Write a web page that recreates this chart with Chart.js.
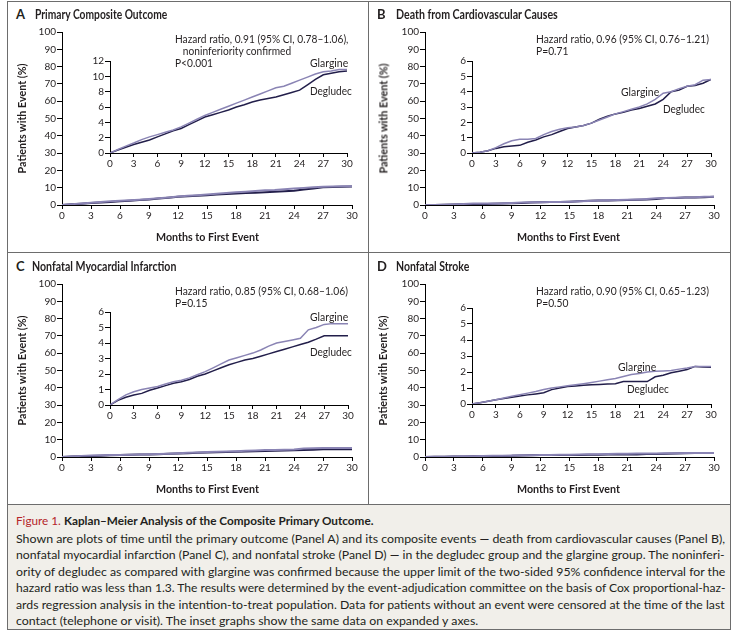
<!DOCTYPE html>
<html>
<head>
<meta charset="utf-8">
<script src="https://cdn.jsdelivr.net/npm/chart.js@4.4.1/dist/chart.umd.min.js"></script>
<style>
body { margin: 0; background: #fff; font-family: Lato, "Open Sans", sans-serif; color: #231f20; }
#page { position: relative; width: 736px; height: 636px; overflow: hidden; }
.t { position: absolute; white-space: nowrap; }
canvas { position: absolute; }
.frame { position: absolute; background: #6d6d6d; }
#capbox { position: absolute; left: 7px; top: 504px; width: 724px; height: 126px; background: #f1efea; border: 1px solid #6d6d6d; box-sizing: border-box; }
</style>
</head>
<body>
<div id="page">
  <div class="frame" style="left:7px;top:1px;width:724px;height:1px"></div>
  <div class="frame" style="left:7px;top:1px;width:1px;height:504px"></div>
  <div class="frame" style="left:730px;top:1px;width:1px;height:504px"></div>
  <div class="frame" style="left:368px;top:1px;width:1px;height:504px"></div>
  <div class="frame" style="left:7px;top:252px;width:724px;height:1px"></div>
  <div id="capbox"></div>

  <canvas id="mainA" width="340" height="215" style="left:30px;top:20px"></canvas>
  <canvas id="mainB" width="339" height="215" style="left:393px;top:20px"></canvas>
  <canvas id="mainC" width="340" height="215" style="left:30px;top:272px"></canvas>
  <canvas id="mainD" width="339" height="215" style="left:393px;top:272px"></canvas>

  <canvas id="insetA" width="280" height="125" style="left:80px;top:50px"></canvas>
  <canvas id="insetB" width="282" height="125" style="left:442px;top:50px"></canvas>
  <canvas id="insetC" width="281" height="126" style="left:80px;top:301px"></canvas>
  <canvas id="insetD" width="282" height="129" style="left:442px;top:297px"></canvas>
</div>

<script>
// months on the x axis (shared by all curves)
const months = [0, 1, 2, 3, 4, 5, 6, 7, 8, 9, 10, 11, 12, 13, 14, 15, 16, 17, 18, 19, 20, 21, 22, 23, 24, 25, 26, 27, 28, 29, 30];
const xTicks = [0, 3, 6, 9, 12, 15, 18, 21, 24, 27, 30];

// Panel A - primary composite outcome (%)
const glargineA = [0, 0.45, 0.9, 1.3, 1.75, 2.1, 2.4, 2.7, 3.0, 3.4, 3.9, 4.4, 4.9, 5.3, 5.7, 6.1, 6.5, 6.9, 7.3, 7.7, 8.1, 8.5, 8.7, 9.1, 9.5, 9.9, 10.3, 10.6, 10.7, 10.9, 10.9];
const degludecA = [0, 0.4, 0.75, 1.1, 1.4, 1.7, 2.1, 2.5, 2.9, 3.2, 3.7, 4.2, 4.7, 5.0, 5.3, 5.6, 6.0, 6.3, 6.65, 6.9, 7.1, 7.3, 7.6, 7.9, 8.2, 8.9, 9.6, 10.2, 10.4, 10.6, 10.7];

// Panel B - death from cardiovascular causes (%)
const glargineB = [0, 0.05, 0.15, 0.35, 0.6, 0.8, 0.9, 0.9, 0.95, 1.2, 1.4, 1.55, 1.65, 1.7, 1.8, 1.95, 2.15, 2.35, 2.55, 2.7, 2.85, 3.0, 3.2, 3.5, 3.9, 4.0, 4.2, 4.35, 4.45, 4.75, 4.8];
const degludecB = [0, 0.05, 0.15, 0.3, 0.4, 0.45, 0.5, 0.7, 0.85, 1.05, 1.2, 1.4, 1.6, 1.7, 1.8, 1.95, 2.2, 2.4, 2.55, 2.65, 2.8, 2.9, 3.05, 3.2, 3.5, 4.0, 4.1, 4.35, 4.4, 4.55, 4.8];

// Panel C - nonfatal myocardial infarction (%)
const glargineC = [0, 0.35, 0.65, 0.85, 1.0, 1.1, 1.2, 1.35, 1.5, 1.6, 1.75, 1.95, 2.15, 2.4, 2.65, 2.9, 3.05, 3.2, 3.35, 3.55, 3.8, 4.0, 4.1, 4.2, 4.3, 4.85, 5.0, 5.2, 5.25, 5.25, 5.25];
const degludecC = [0, 0.3, 0.5, 0.65, 0.75, 0.95, 1.1, 1.25, 1.4, 1.5, 1.65, 1.85, 2.0, 2.2, 2.4, 2.6, 2.75, 2.9, 3.0, 3.15, 3.3, 3.45, 3.6, 3.75, 3.9, 4.05, 4.25, 4.47, 4.47, 4.47, 4.47];

// Panel D - nonfatal stroke (%)
const glargineD = [0, 0.08, 0.17, 0.27, 0.38, 0.48, 0.58, 0.68, 0.78, 0.9, 1.0, 1.07, 1.14, 1.2, 1.27, 1.35, 1.43, 1.52, 1.6, 1.72, 1.85, 1.9, 2.0, 2.05, 2.07, 2.1, 2.18, 2.25, 2.35, 2.35, 2.35];
const degludecD = [0, 0.08, 0.17, 0.27, 0.35, 0.42, 0.5, 0.57, 0.63, 0.7, 0.9, 1.0, 1.1, 1.13, 1.17, 1.2, 1.22, 1.25, 1.27, 1.4, 1.4, 1.4, 1.4, 1.7, 1.8, 1.95, 2.05, 2.15, 2.35, 2.32, 2.3];

const GLARGINE = '#8a84b4';
const DEGLUDEC = '#221e4a';
const INK = '#231f20';

Chart.defaults.font.family = 'Lato, "Open Sans", sans-serif';
Chart.defaults.font.size = 10;
Chart.defaults.color = INK;

function toXY(ys) {
    return months.map((m, i) => ({ x: m, y: ys[i] }));
}

function drawKM(id, gl, de, yMax, yStep, opts) {
    new Chart(document.getElementById(id), {
        type: 'line',
        data: {
            datasets: [
                { label: 'Glargine', data: toXY(gl), borderColor: GLARGINE, borderWidth: opts.lw, pointRadius: 0, fill: false, tension: 0 },
                { label: 'Degludec', data: toXY(de), borderColor: DEGLUDEC, borderWidth: opts.lw, pointRadius: 0, fill: false, tension: 0 }
            ]
        },
        options: {
            responsive: false,
            animation: false,
            layout: { padding: { top: opts.top, right: opts.right, left: 0, bottom: 0 } },
            plugins: { legend: { display: false }, tooltip: { enabled: false } },
            scales: {
                x: {
                    type: 'linear', min: 0, max: 30,
                    afterBuildTicks: s => { s.ticks = xTicks.map(v => ({ value: v })); },
                    ticks: { padding: 1, maxRotation: 0, autoSkip: false, font: { size: opts.fs } },
                    grid: { drawOnChartArea: false, tickLength: 4, color: '#000' },
                    border: { color: '#000', width: 1 },
                    afterFit: s => { s.height = opts.xh; }
                },
                y: {
                    min: 0, max: yMax,
                    ticks: { stepSize: yStep, padding: 1, autoSkip: false, font: { size: opts.fs } },
                    grid: { drawOnChartArea: false, tickLength: 5, color: '#000' },
                    border: { color: '#000', width: 1 },
                    afterFit: s => { s.width = opts.yw; }
                }
            }
        }
    });
}

const mainOpts = { lw: 2, top: 12, right: 18, xh: 30, yw: 32, fs: 10 };
drawKM('mainA', glargineA, degludecA, 100, 10, mainOpts);
drawKM('mainB', glargineB, degludecB, 100, 10, mainOpts);
drawKM('mainC', glargineC, degludecC, 100, 10, mainOpts);
drawKM('mainD', glargineD, degludecD, 100, 10, mainOpts);

const insetOpts = { lw: 1.5, top: 11, right: 13, xh: 22, yw: 30, fs: 10 };
drawKM('insetA', glargineA, degludecA, 12, 2, insetOpts);
drawKM('insetB', glargineB, degludecB, 6, 1, insetOpts);
drawKM('insetC', glargineC, degludecC, 6, 1, insetOpts);
drawKM('insetD', glargineD, degludecD, 6, 1, insetOpts);

// text placement: (x, y) is the left edge or centre, y is the vertical centre;
// w squeezes the line to the width it has in the printed figure
const page = document.getElementById('page');
function put(html, x, y, style, w, align, rot) {
    const el = document.createElement('div');
    el.className = 't';
    el.innerHTML = html;
    el.style.cssText += style;
    page.appendChild(el);
    const nw = el.offsetWidth, nh = el.offsetHeight;
    const k = w ? w / nw : 1;
    el.style.top = (y - nh / 2) + 'px';
    if (align === 'center') {
        el.style.left = (x - nw / 2) + 'px';
        el.style.transformOrigin = 'center center';
    } else {
        el.style.left = x + 'px';
        el.style.transformOrigin = 'left center';
    }
    el.style.transform = (rot ? 'rotate(-90deg) ' : '') + 'scaleX(' + k + ')';
    return k;
}

const titleFont = 'font-weight:bold;font-size:12.5px;';
const bodyFont = 'font-size:11px;';
const labelFont = 'font-weight:bold;font-size:11.5px;';

const panels = [
    { dx: 0, dy: 0, letter: 'A', title: 'Primary Composite Outcome', tw: 132,
      hr: ['Hazard ratio, 0.91 (95% CI, 0.78–1.06),', '&nbsp;&nbsp;&nbsp;noninferiority confirmed', 'P&lt;0.001'],
      gl: [310, 62], de: [310, 90] },
    { dx: 361, dy: 0, letter: 'B', title: 'Death from Cardiovascular Causes', tw: 162,
      hr: ['Hazard ratio, 0.96 (95% CI, 0.76–1.21)', 'P=0.71'],
      gl: [621, 91], de: [663, 108] },
    { dx: 0, dy: 252, letter: 'C', title: 'Nonfatal Myocardial Infarction', tw: 144,
      hr: ['Hazard ratio, 0.85 (95% CI, 0.68–1.06)', 'P=0.15'],
      gl: [310, 316], de: [310, 351] },
    { dx: 361, dy: 252, letter: 'D', title: 'Nonfatal Stroke', tw: 73,
      hr: ['Hazard ratio, 0.90 (95% CI, 0.65–1.23)', 'P=0.50'],
      gl: [618, 366], de: [627, 388] }
];

panels.forEach(p => {
    put(p.letter, 16 + p.dx, 14 + p.dy, titleFont + 'font-size:13px;', 0, 'left');
    put(p.title, (p.letter === 'C' ? 32 : 35) + p.dx, 14 + p.dy, titleFont, p.tw, 'left');
    put('Patients with Event (%)', 22 + p.dx, 118 + p.dy, labelFont, 110, 'center', true);
    put('Months to First Event', 207 + p.dx, 236 + p.dy, labelFont, 103, 'center');
    let k = 1;
    p.hr.forEach((line, i) => {
        if (i === 0) k = put(line, 175 + p.dx, 38 + p.dy, bodyFont, 173, 'left');
        else put(line, 175 + p.dx, 38 + p.dy + 12 * i, bodyFont, 0, 'left');
    });
    // squeeze the remaining lines by the same factor as the first one
    const kids = page.children;
    for (let i = kids.length - p.hr.length + 1; i < kids.length; i++) {
        kids[i].style.transform = 'scaleX(' + k + ')';
    }
    put('Glargine', p.gl[0], p.gl[1], bodyFont, 38, 'left');
    put('Degludec', p.de[0], p.de[1], bodyFont, 42, 'left');
});

// caption
const capFont = 'font-size:12px;';
put('<span style="color:#b5252b">Figure 1.</span> <b>Kaplan–Meier Analysis of the Composite Primary Outcome.</b>', 16, 520, capFont, 357, 'left');
const capLines = [
    'Shown are plots of time until the primary outcome (Panel A) and its composite events — death from cardiovascular causes (Panel B),',
    'nonfatal myocardial infarction (Panel C), and nonfatal stroke (Panel D) — in the degludec group and the glargine group. The noninferi-',
    'ority of degludec as compared with glargine was confirmed because the upper limit of the two-sided 95% confidence interval for the',
    'hazard ratio was less than 1.3. The results were determined by the event-adjudication committee on the basis of Cox proportional-haz-',
    'ards regression analysis in the intention-to-treat population. Data for patients without an event were censored at the time of the last'
];
let capK = 1;
capLines.forEach((line, i) => {
    const k = put(line, 16, 538 + i * 16.5, capFont, 709, 'left');
    if (i === 0) capK = k;
});
put('contact (telephone or visit). The inset graphs show the same data on expanded y axes.', 16, 620, capFont, 0, 'left');
page.lastChild.style.transform = 'scaleX(' + capK + ')';
</script>
</body>
</html>
